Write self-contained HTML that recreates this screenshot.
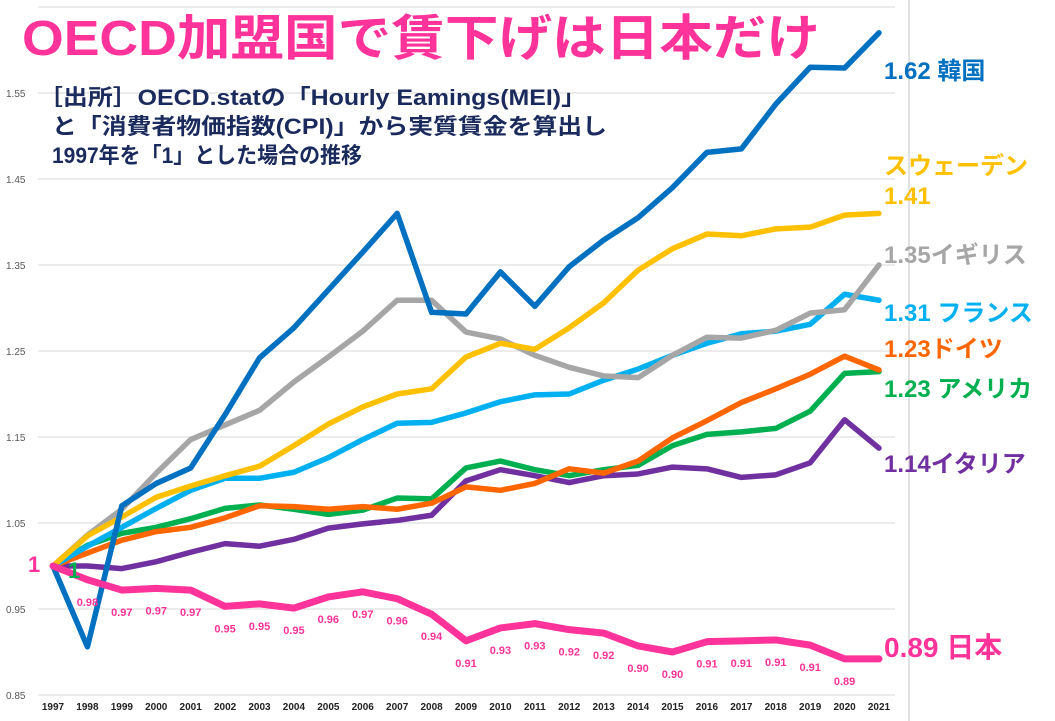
<!DOCTYPE html>
<html><head><meta charset="utf-8"><style>
html,body{margin:0;padding:0;background:#fff;}
svg{display:block;font-family:"Liberation Sans","Noto Sans CJK JP",sans-serif;}
</style></head><body>
<svg id="chart" width="1055" height="721" viewBox="0 0 1055 721">
<line x1="909" y1="0" x2="909" y2="721" stroke="#d9d9d9" stroke-width="1.5"/>
<g id="grid"></g><g id="axes"></g><g id="lines"></g><g id="labels"></g>
<text x="22" y="55" font-size="49" font-weight="bold" fill="#ff3399" textLength="798" lengthAdjust="spacingAndGlyphs">OECD加盟国で賃下げは日本だけ</text>
<g font-size="22" fill="#1b2a5c" font-weight="bold">
<text x="38" y="105" textLength="548" lengthAdjust="spacingAndGlyphs">［出所］OECD.statの「Hourly Eamings(MEI)」</text>
<text x="52" y="134" textLength="555" lengthAdjust="spacingAndGlyphs">と「消費者物価指数(CPI)」から実質賃金を算出し</text>
<text x="52" y="163" textLength="310" lengthAdjust="spacingAndGlyphs">1997年を「1」とした場合の推移</text>
</g>
</svg>
<script>
const years=[1997,1998,1999,2000,2001,2002,2003,2004,2005,2006,2007,2008,2009,2010,2011,2012,2013,2014,2015,2016,2017,2018,2019,2020,2021];
const yTicks=[0.85,0.95,1.05,1.15,1.25,1.35,1.45,1.55];
const gridVals=[0.85,0.95,1.05,1.15,1.25,1.35,1.45,1.55,1.65];
const korea=[1,0.906,1.07,1.096,1.114,1.176,1.242,1.277,1.321,1.365,1.41,1.295,1.293,1.342,1.302,1.348,1.379,1.405,1.44,1.481,1.485,1.537,1.58,1.579,1.62];
const sweden=[1,1.035,1.057,1.08,1.093,1.105,1.116,1.14,1.165,1.185,1.2,1.206,1.243,1.259,1.252,1.277,1.306,1.344,1.369,1.386,1.384,1.392,1.394,1.408,1.41];
const uk=[1,1.036,1.066,1.108,1.147,1.164,1.181,1.214,1.243,1.273,1.309,1.309,1.272,1.264,1.245,1.231,1.221,1.219,1.245,1.266,1.265,1.274,1.294,1.298,1.35];
const france=[1,1.023,1.045,1.067,1.088,1.102,1.102,1.109,1.126,1.147,1.166,1.167,1.178,1.191,1.199,1.2,1.216,1.229,1.245,1.259,1.27,1.273,1.281,1.316,1.309];
const germany=[1,1.015,1.03,1.04,1.045,1.056,1.07,1.069,1.066,1.069,1.066,1.073,1.092,1.088,1.096,1.113,1.108,1.122,1.149,1.169,1.19,1.206,1.223,1.244,1.228];
const usa=[1,1.024,1.038,1.045,1.055,1.067,1.071,1.066,1.06,1.065,1.079,1.078,1.114,1.122,1.112,1.105,1.112,1.117,1.14,1.153,1.156,1.16,1.18,1.224,1.226];
const italy=[1,1.0,0.997,1.005,1.016,1.026,1.023,1.031,1.044,1.049,1.053,1.059,1.099,1.112,1.105,1.097,1.105,1.107,1.115,1.113,1.103,1.106,1.12,1.17,1.137];
const japan=[1,0.984,0.972,0.974,0.972,0.953,0.956,0.951,0.964,0.97,0.962,0.944,0.913,0.928,0.933,0.926,0.922,0.907,0.9,0.912,0.913,0.914,0.908,0.892,0.892];
const japanLabels=["","0.98","0.97","0.97","0.97","0.95","0.95","0.95","0.96","0.97","0.96","0.94","0.91","0.93","0.93","0.92","0.92","0.90","0.90","0.91","0.91","0.91","0.91","0.89",""];

const NS="http://www.w3.org/2000/svg";
const X=i=>53+i*(879-53)/(years.length-1);
const Y=v=>695-(v-0.85)*860;
function mk(tag,attrs,parent,text){const e=document.createElementNS(NS,tag);for(const k in attrs)e.setAttribute(k,attrs[k]);if(text!==undefined)e.textContent=text;parent.appendChild(e);return e;}
const grid=document.getElementById('grid'),axes=document.getElementById('axes'),lines=document.getElementById('lines'),labels=document.getElementById('labels');
gridVals.forEach(v=>{const l=mk('line',{x1:38,x2:895,y1:Y(v),y2:Y(v),stroke:'#d9d9d9','stroke-width':1},grid);

});
yTicks.forEach(v=>{const t=mk('text',{x:6,y:Y(v)+4,'font-size':10,fill:'#595959'},axes,v.toFixed(2));

});
years.forEach((yr,i)=>{const t=mk('text',{x:X(i),y:710,'font-size':10,'font-weight':'bold','text-anchor':'middle',fill:'#222'},axes,yr);

});
const series=[['italy',italy,'#7030a0'],['usa',usa,'#00b050'],['germany',germany,'#ff6600'],['france',france,'#00b0f0'],['uk',uk,'#a6a6a6'],['sweden',sweden,'#ffc000'],['korea',korea,'#0070c0'],['japan',japan,'#ff3399']];
series.forEach(([n,d,c])=>{const p=mk('polyline',{points:d.map((v,i)=>X(i)+','+Y(v)).join(' '),fill:'none',stroke:c,'stroke-width':n==='japan'?7:5.5,'stroke-linejoin':'round','stroke-linecap':'round'},lines);

});
japan.forEach((v,i)=>{if(!japanLabels[i])return;const t=mk('text',{x:X(i),y:Y(v)+26,'font-size':11,'font-weight':'bold','text-anchor':'middle',fill:'#ff3399'},labels,japanLabels[i]);

});
const ends=[['1.62 韓国',884,79,'#0070c0'],['スウェーデン',884,174,'#ffc000'],['1.41',884,204,'#ffc000'],['1.35イギリス',884,263,'#a6a6a6'],['1.31 フランス',884,321,'#00b0f0'],['1.23ドイツ',884,357,'#ff6600'],['1.23 アメリカ',884,397,'#00b050'],['1.14イタリア',884,472,'#7030a0'],['0.89 日本',884,657,'#ff3399'],['1',28,572,'#ff3399'],['1',68,578,'#00b050']];
ends.forEach(([s,x,y,c])=>{const t=mk('text',{x:x,y:y,'font-size':s==='0.89 日本'?28:(s==='1'?22:24),'font-weight':'bold',fill:c},labels,s);

});
</script>
</body></html>
